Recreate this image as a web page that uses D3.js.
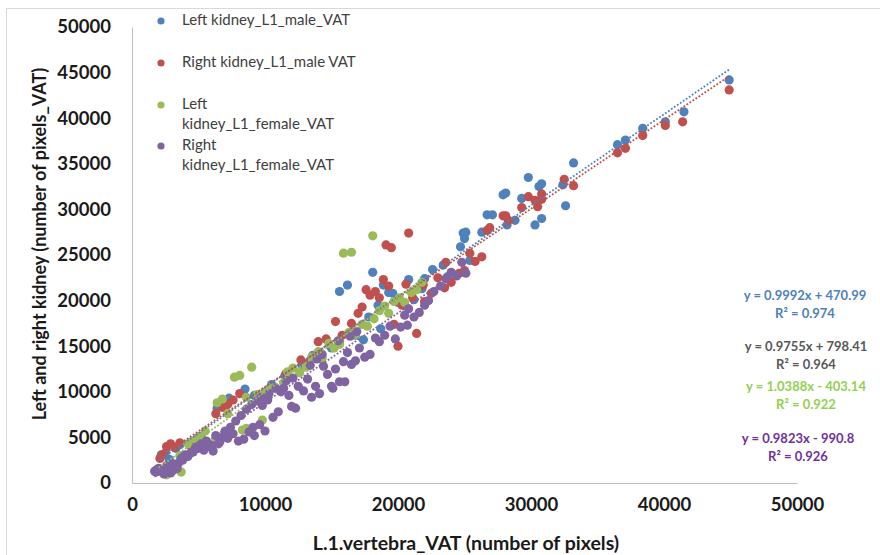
<!DOCTYPE html>
<html>
<head>
<meta charset="utf-8">
<script src="https://cdn.jsdelivr.net/npm/d3@7"></script>
<style>
  body { margin: 0; background: #fff; }
  svg { display: block; font-family: Lato, "Open Sans", sans-serif; }
</style>
</head>
<body>
<svg id="chart" width="880" height="555"></svg>
<script>
// series names shown in the legend
const seriesNames = ["Left kidney_L1_male_VAT", "Right kidney_L1_male VAT", "Left\nkidney_L1_female_VAT", "Right\nkidney_L1_female_VAT"];

// points: [L1 vertebra VAT, kidney VAT]
const leftMale = [[1900,1500],[2200,3100],[2500,3300],[2800,2600],[3300,3800],[3600,4200],[4500,4500],[5200,5100],[6400,8200],[7000,9000],[7300,9300],[8500,10300],[9200,9600],[10500,10800],[11500,11800],[12800,12900],[13600,14000],[14200,13600],[15000,14800],[15600,15500],[16200,21700],[15600,21000],[16800,16200],[17400,15700],[17800,18200],[18100,23100],[18500,19500],[18700,16900],[18900,21700],[19300,20900],[19600,20800],[20000,19800],[20800,22300],[21200,20100],[21800,21300],[22000,22400],[22600,23400],[23400,23900],[23700,22600],[24700,25900],[24900,27400],[25000,26800],[25100,27500],[25400,24400],[26300,27500],[26700,29400],[27100,29400],[27900,31600],[28100,31800],[28200,28300],[28800,28800],[29300,31200],[29800,33500],[30300,28300],[30600,32500],[30800,32800],[30800,29000],[32400,32700],[32600,30400],[33200,35100],[36500,37100],[37100,37600],[38400,38900],[40100,39600],[41500,40700],[44900,44200]];

const rightMale = [[2100,2700],[2300,3100],[2600,4000],[2900,4300],[3200,3900],[3600,4400],[4300,4200],[5000,5000],[6300,7600],[6800,8300],[7200,8600],[7600,9100],[8100,9800],[10500,10400],[11600,12000],[12700,13500],[13300,13200],[14000,15500],[14600,15800],[15300,17700],[15800,16200],[16500,17500],[17000,18600],[17300,19300],[17600,21200],[17900,20600],[18300,21000],[18600,20300],[18900,22300],[19100,26100],[19300,21600],[19500,25800],[19700,17400],[20000,15000],[20300,19500],[20600,21800],[20800,27400],[21100,20300],[21400,16400],[21900,21700],[22000,19900],[22500,20800],[23000,22500],[23500,21400],[23600,24200],[24000,22000],[24600,23000],[25000,23300],[25400,25200],[25800,24300],[26300,24800],[26700,27700],[26900,28000],[27900,29300],[28100,29300],[28300,28800],[29300,30200],[29800,31400],[30300,31000],[30500,30300],[30800,31700],[30800,31100],[32500,33300],[33200,32600],[36500,36200],[37100,36700],[38400,38100],[40100,39200],[41400,39600],[44900,43100]];

const leftFemale = [[2000,1400],[2400,1100],[2600,900],[2900,1700],[3300,1500],[3700,1200],[3600,3000],[4200,4300],[4600,4600],[5100,5100],[5500,5700],[6200,4400],[6400,8800],[6800,9200],[7200,7600],[7700,11600],[8100,11800],[8600,9400],[8300,5800],[8600,6000],[9000,12700],[9400,9700],[9800,6900],[10000,10000],[10400,10500],[10900,10300],[11400,11000],[11700,12200],[12100,12600],[12600,12100],[13100,12700],[13500,13800],[14000,14400],[14300,13700],[14800,15300],[15200,14800],[15600,15200],[15900,25200],[16300,16500],[16500,25300],[16800,16300],[17300,17400],[17700,17200],[18100,27100],[18200,18000],[18600,18900],[19000,19400],[19300,18600],[19700,19900],[20100,20300],[20500,19800],[21000,20900],[21400,21200],[21800,22000]];

const rightFemale = [[1700,1300],[1800,1200],[2000,1600],[2100,1400],[2300,1200],[2400,1000],[2600,1900],[2700,1600],[2900,1100],[3000,1300],[3100,2100],[3200,1800],[3400,1600],[3500,2200],[3700,2700],[3800,2500],[4000,3100],[4200,2900],[4400,3300],[4600,3400],[4800,4000],[5000,3800],[5200,4300],[5400,3600],[5600,4600],[5800,4000],[6000,4100],[6100,3500],[6300,5200],[6500,4300],[6600,4500],[6800,5000],[7000,5700],[7200,4900],[7400,6100],[7600,5400],[7800,6800],[8000,4600],[8200,7400],[8400,4800],[8600,8100],[8800,5600],[9000,8600],[9100,6100],[9200,5200],[9400,9000],[9600,6400],[9700,9400],[9800,8500],[10000,5700],[10200,9100],[10300,9800],[10600,7200],[10800,10400],[11000,7800],[11200,10000],[11400,10400],[11600,11200],[11800,9600],[12000,8400],[12100,11500],[12300,8200],[12500,10600],[12900,10100],[13200,11400],[13400,12900],[13500,9400],[13800,10600],[13900,13600],[14100,9800],[14300,14100],[14400,12800],[14700,11900],[15000,10600],[15100,10400],[15300,12500],[15500,15600],[15600,11100],[15900,13300],[16000,11100],[16200,14300],[16400,16100],[16500,13000],[16800,13400],[16900,16600],[17100,14800],[17500,13800],[17900,14100],[18300,15900],[18600,15500],[19000,16200],[19400,17200],[19800,15800],[20200,17100],[20500,18400],[20700,17300],[20800,19100],[21200,18200],[21600,18700],[22000,19500],[22300,20000],[22700,21000],[23200,21600],[23600,22400],[24000,23100],[24400,22700],[24800,24200],[25100,23000]];

// linear trendlines as printed on the chart
const slopes = [0.9992, 0.9755, 1.0388, 0.9823];
const intercepts = [470.99, 798.41, -403.14, -990.8];
const equations = [["y = 0.9992x + 470.99", "R² = 0.974"], ["y = 0.9755x + 798.41", "R² = 0.964"], ["y = 1.0388x - 403.14", "R² = 0.922"], ["y = 0.9823x - 990.8", "R² = 0.926"]];

const xTicks = [0, 10000, 20000, 30000, 40000, 50000];
const yTicks = [0, 5000, 10000, 15000, 20000, 25000, 30000, 35000, 40000, 45000, 50000];

const allSeries = [leftMale, rightMale, leftFemale, rightFemale];
const colors = ["#4f81bd", "#c0504d", "#9bbb59", "#8064a2"];
const eqColors = ["#4f81bd", "#595959", "#92d050", "#7030a0"];

const svg = d3.select("#chart");

// outer chart frame (only top and left show)
svg.append("rect")
  .attr("x", 6.5).attr("y", 8.5)
  .attr("width", 900).attr("height", 600)
  .attr("fill", "none").attr("stroke", "#d9d9d9");

const x = d3.scaleLinear().domain([0, 50000]).range([132, 797]);
const y = d3.scaleLinear().domain([0, 50000]).range([483, 27]);

// axes: plain grey lines, bold labels, no tick marks
const xAxis = svg.append("g")
  .attr("transform", "translate(0,483)")
  .call(d3.axisBottom(x).tickValues(xTicks).tickFormat(d3.format("d")).tickSize(0).tickPadding(15));
const yAxis = svg.append("g")
  .attr("transform", "translate(132,0)")
  .call(d3.axisLeft(y).tickValues(yTicks).tickFormat(d3.format("d")).tickSize(0).tickPadding(21));

[xAxis, yAxis].forEach(g => {
  g.select(".domain").attr("stroke", "#bfbfbf");
  g.selectAll("text")
    .attr("font-family", "Lato, sans-serif")
    .attr("font-size", 18.5)
    .attr("font-weight", "bold")
    .attr("fill", "#1a1a1a");
});

// axis titles
svg.append("text")
  .attr("x", 466).attr("y", 550)
  .attr("text-anchor", "middle")
  .attr("font-size", 19.5).attr("font-weight", "bold").attr("fill", "#1a1a1a")
  .text("L.1.vertebra_VAT (number of pixels)");

svg.append("text")
  .attr("transform", "translate(46,244) rotate(-90)")
  .attr("text-anchor", "middle")
  .attr("font-size", 18).attr("font-weight", "bold").attr("fill", "#1a1a1a")
  .text("Left and right kidney (number of pixels_VAT)");

// scatter points
allSeries.forEach((pts, i) => {
  svg.append("g").selectAll("circle")
    .data(pts)
    .enter()
    .append("circle")
    .attr("cx", d => x(d[0]))
    .attr("cy", d => y(d[1]))
    .attr("r", 4.6)
    .attr("fill", colors[i]);
});

// dotted trendlines over the series x-range
allSeries.forEach((pts, i) => {
  const ext = d3.extent(pts, d => d[0]);
  svg.append("line")
    .attr("x1", x(ext[0])).attr("y1", y(slopes[i] * ext[0] + intercepts[i]))
    .attr("x2", x(ext[1])).attr("y2", y(slopes[i] * ext[1] + intercepts[i]))
    .attr("stroke", colors[i])
    .attr("stroke-width", 1.8)
    .attr("stroke-dasharray", "1.8,1.8");
});

// equations at right
const eqY = [297, 348, 388, 440];
const eqX = [805, 806, 806, 798];
equations.forEach((lines, i) => {
  lines.forEach((t, j) => {
    svg.append("text")
      .attr("x", eqX[i]).attr("y", eqY[i] + j * 17.5)
      .attr("text-anchor", "middle")
      .attr("dominant-baseline", "middle")
      .attr("font-size", 13).attr("font-weight", "bold")
      .attr("fill", eqColors[i])
      .text(t);
  });
});

// legend
const legY = [21, 63, 105, 146];
seriesNames.forEach((name, i) => {
  svg.append("circle")
    .attr("cx", 161).attr("cy", legY[i])
    .attr("r", 3.6).attr("fill", colors[i]);
  name.split("\n").forEach((part, j) => {
    svg.append("text")
      .attr("x", 182).attr("y", legY[i] + j * 20.5)
      .attr("dominant-baseline", "middle")
      .attr("font-size", 15).attr("fill", "#404040")
      .text(part);
  });
});
</script>
</body>
</html>
